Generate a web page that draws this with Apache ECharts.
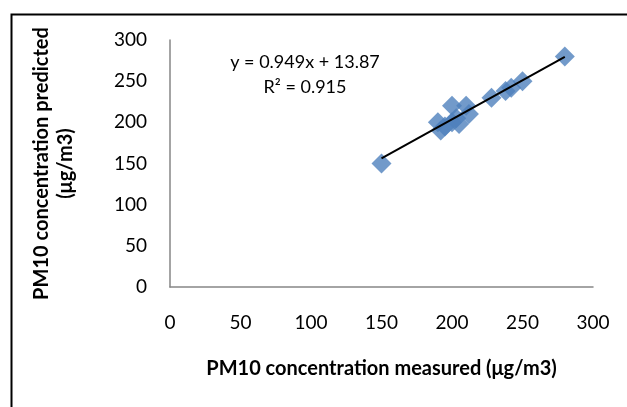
<!DOCTYPE html>
<html>
<head>
<meta charset="utf-8">
<script src="https://cdn.jsdelivr.net/npm/echarts@6/dist/echarts.min.js"></script>
<style>
  html, body { margin: 0; padding: 0; background: #fff; }
  #chart { width: 627px; height: 407px; }
</style>
</head>
<body>
<div id="chart"></div>
<script>
// measured vs predicted PM10
const measured  = [150, 190, 192, 195, 200, 200, 203, 205, 210, 212, 228, 238, 242, 250, 280];
const predicted = [150, 200, 190, 195, 220, 200, 205, 198, 220, 210, 230, 238, 242, 250, 280];
const axisTicks = [0, 50, 100, 150, 200, 250, 300];
const slope = 0.949;
const intercept = 13.87;
const rSquared = 0.915;

const points = measured.map((x, i) => [x, predicted[i]]);
const xMin = Math.min(...measured), xMax = Math.max(...measured);
const trend = [[xMin, slope * xMin + intercept], [xMax, slope * xMax + intercept]];

const font = 'Lato, "Open Sans", sans-serif';
const axisColor = '#868686';

let myChart = echarts.init(document.getElementById('chart'));
myChart.setOption({
  animation: false,
  grid: { left: 170, top: 40, right: 34, bottom: 120 },
  xAxis: {
    type: 'value',
    min: axisTicks[0], max: axisTicks[axisTicks.length - 1], interval: 50,
    axisLine: { lineStyle: { color: axisColor, width: 1.5 } },
    axisTick: { show: false },
    splitLine: { show: false },
    axisLabel: { color: '#000', fontSize: 19, fontFamily: font, margin: 26 },
    name: 'PM10 concentration measured (μg/m3)',
    nameLocation: 'middle',
    nameGap: 72,
    nameTextStyle: { color: '#000', fontSize: 20, fontWeight: 'bold', fontFamily: font }
  },
  yAxis: {
    type: 'value',
    min: axisTicks[0], max: axisTicks[axisTicks.length - 1], interval: 50,
    axisLine: { show: true, lineStyle: { color: axisColor, width: 1.5 } },
    axisTick: { show: false },
    splitLine: { show: false },
    axisLabel: { color: '#000', fontSize: 19, fontFamily: font, margin: 23 },
    name: 'PM10 concentration predicted\n(μg/m3)',
    nameLocation: 'middle',
    nameGap: 92,
    nameRotate: 90,
    nameTextStyle: { color: '#000', fontSize: 20, fontWeight: 'bold', fontFamily: font, lineHeight: 24 }
  },
  graphic: [
    {
      type: 'rect', left: 9, top: 12, silent: true,
      shape: { width: 640, height: 420 },
      style: { fill: 'none', stroke: '#000', lineWidth: 2 }
    },
    {
      type: 'text', x: 305, y: 62, silent: true,
      style: {
        text: 'y = ' + slope + 'x + ' + intercept,
        fill: '#000', font: '18px ' + font, align: 'center', verticalAlign: 'middle'
      }
    },
    {
      type: 'text', x: 305, y: 87, silent: true,
      style: {
        text: 'R² = ' + rSquared,
        fill: '#000', font: '18px ' + font, align: 'center', verticalAlign: 'middle'
      }
    }
  ],
  series: [
    {
      type: 'scatter',
      data: points,
      symbol: 'diamond',
      symbolSize: 20,
      itemStyle: { color: '#4F81BD' },
      z: 2
    },
    {
      type: 'line',
      data: trend,
      symbol: 'none',
      lineStyle: { color: '#000', width: 2 },
      z: 3
    }
  ]
});
window.onresize = function() {
  myChart.resize();
};
</script>
</body>
</html>
